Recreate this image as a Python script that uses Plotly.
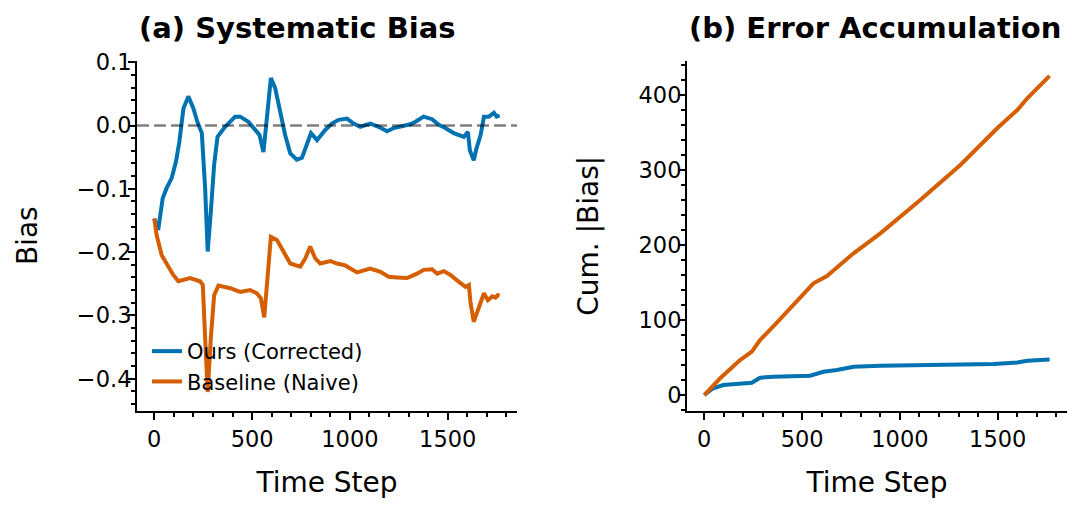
import plotly.graph_objects as go

# ---------------- data ----------------
t_ours = [0, 20, 43, 63, 89, 111, 128, 149, 174, 200, 220, 243, 260, 273, 289, 306, 323, 362, 413, 439,
          481, 516, 538, 558, 575, 596, 618, 644, 669, 695, 729, 755, 777, 801, 832, 874, 908, 942, 985, 1019,
          1053, 1104, 1147, 1190, 1224, 1275, 1309, 1335, 1377, 1420, 1454, 1488, 1531, 1582, 1603, 1613, 1633,
          1647, 1668, 1685, 1710, 1736, 1750, 1765]
bias_ours = [-0.147, -0.165, -0.115, -0.099, -0.083, -0.057, -0.026, 0.027, 0.046, 0.027,
             0.006, -0.012, -0.099, -0.199, -0.136, -0.062, -0.018, -0.002, 0.014, 0.014,
             0.006, -0.007, -0.015, -0.042, 0.006, 0.075, 0.059, 0.022, -0.015, -0.044,
             -0.054, -0.051, -0.031, -0.012, -0.023, -0.007, 0.003, 0.009, 0.011, 0.003,
             -0.002, 0.003, -0.002, -0.009, -0.004, 0.000, 0.002, 0.006, 0.014, 0.010,
             0.001, -0.004, -0.012, -0.018, -0.010, -0.039, -0.055, -0.036, -0.015, 0.014,
             0.014, 0.020, 0.014, 0.016]

t_base = [0, 12, 38, 63, 97, 123, 183, 234, 248, 260, 273, 289, 306, 328, 388, 439, 490, 524, 545, 562,
          579, 596, 627, 661, 695, 746, 772, 797, 823, 848, 900, 934, 976, 1036, 1104, 1156, 1198, 1241, 1292,
          1343, 1377, 1420, 1446, 1480, 1514, 1557, 1591, 1608, 1617, 1633, 1651, 1668, 1685, 1705, 1728,
          1744, 1756, 1765]
bias_base = [-0.147, -0.173, -0.205, -0.218, -0.236, -0.246, -0.241, -0.246, -0.252, -0.336,
             -0.421, -0.336, -0.268, -0.253, -0.257, -0.263, -0.260, -0.265, -0.273, -0.303,
             -0.231, -0.176, -0.181, -0.199, -0.218, -0.223, -0.210, -0.191, -0.210, -0.218,
             -0.214, -0.218, -0.221, -0.232, -0.226, -0.231, -0.239, -0.240, -0.241, -0.234,
             -0.228, -0.227, -0.234, -0.230, -0.236, -0.247, -0.255, -0.252, -0.281, -0.310,
             -0.294, -0.278, -0.265, -0.276, -0.270, -0.272, -0.268, -0.269]

t_cum_ours = [0, 46, 97, 183, 243, 285, 353, 541, 609, 678, 763, 900, 1139, 1480, 1600, 1651, 1765]
cum_ours = [0, 9, 13.3, 15.6, 16.4, 23, 24.4, 25.8, 31, 33.3, 37.8, 39, 40, 41.3, 43.5, 45.8, 47.5]

t_cum_base = [0, 80, 183, 243, 285, 371, 558, 627, 763, 900, 1104, 1309, 1497, 1600, 1651, 1765]
cum_base = [0, 22, 46.7, 57.8, 73.3, 96.5, 148.9, 158.7, 188.9, 215.6, 260, 306.7, 355.6, 380, 395.6, 425.5]

x_ticks = [0, 500, 1000, 1500]
names = ["Ours (Corrected)", "Baseline (Naive)"]
titles = ["(a) Systematic Bias", "(b) Error Accumulation"]

# ---------------- styling ----------------
BLUE = "#0072B2"
ORANGE = "#D55E00"
FONT = "DejaVu Sans"
SCREEN_W, SCREEN_H = 1081, 511
OFF = 8  # default page body margin
W, H = SCREEN_W - OFF, SCREEN_H - OFF
LW = 4

def px_x(p):
    return (p - OFF) / W

def px_y(p):
    return (SCREEN_H - p) / H

fig = go.Figure()

fig.add_trace(go.Scatter(x=t_ours, y=bias_ours, mode="lines", name=names[0],
                         line=dict(color=BLUE, width=LW), xaxis="x", yaxis="y"))
fig.add_trace(go.Scatter(x=t_base, y=bias_base, mode="lines", name=names[1],
                         line=dict(color=ORANGE, width=LW), xaxis="x", yaxis="y"))
fig.add_trace(go.Scatter(x=t_cum_ours, y=cum_ours, mode="lines", name=names[0], showlegend=False,
                         line=dict(color=BLUE, width=LW), xaxis="x2", yaxis="y2"))
fig.add_trace(go.Scatter(x=t_cum_base, y=cum_base, mode="lines", name=names[1], showlegend=False,
                         line=dict(color=ORANGE, width=LW), xaxis="x2", yaxis="y2"))

tickfont = dict(family=FONT, size=22.5, color="black")
titlefont = dict(family=FONT, size=28, color="black")

common = dict(showline=True, linecolor="black", linewidth=2, mirror=False,
              showgrid=False, zeroline=False, ticks="outside", ticklen=7, tickwidth=2,
              tickcolor="black", tickfont=tickfont, automargin=False)

dom_y = [px_y(411), px_y(60.5)]

fig.update_layout(
    width=W, height=H,
    margin=dict(l=0, r=0, t=0, b=0),
    paper_bgcolor="white", plot_bgcolor="white",
    font=dict(family=FONT, color="black"),
    xaxis=dict(domain=[px_x(137), px_x(517)], range=[-88.3, 1854], anchor="y",
               tickvals=x_ticks,
               minor=dict(dtick=100, ticks="outside", ticklen=4, tickwidth=1.5, tickcolor="black"),
               title=dict(text="Time Step", font=titlefont, standoff=21), **common),
    yaxis=dict(domain=dom_y, range=[-0.451, 0.1027], anchor="x",
               dtick=0.1, tick0=0, tickformat=".1f",
               minor=dict(dtick=0.02, ticks="outside", ticklen=4, tickwidth=1.5, tickcolor="black"),
               title=dict(text="Bias", font=titlefont, standoff=31), **common),
    xaxis2=dict(domain=[px_x(687), px_x(1067)], range=[-88.3, 1854], anchor="y2",
                tickvals=x_ticks,
                minor=dict(dtick=100, ticks="outside", ticklen=4, tickwidth=1.5, tickcolor="black"),
                title=dict(text="Time Step", font=titlefont, standoff=21), **common),
    yaxis2=dict(domain=dom_y, range=[-21.3, 446], anchor="x2",
                dtick=100, tick0=0,
                minor=dict(dtick=20, ticks="outside", ticklen=4, tickwidth=1.5, tickcolor="black"),
                title=dict(text="Cum. |Bias|", font=titlefont, standoff=32), **common),
    legend=dict(x=px_x(147), y=px_y(331), xanchor="left", yanchor="top",
                bgcolor="rgba(0,0,0,0)", borderwidth=0,
                font=dict(family=FONT, size=21, color="black")),
    showlegend=True,
)

# pull y tick labels a little closer to the ticks, if supported
try:
    fig.update_yaxes(ticklabelstandoff=-8)
except Exception:
    pass

# zero reference line
fig.add_shape(type="line", xref="x domain", yref="y", x0=0, x1=1, y0=0, y1=0,
              line=dict(color="rgba(0,0,0,0.5)", width=2.5, dash="12px,5px"), layer="above")

# panel titles (left-aligned with each axes)
for xpos, txt in zip([px_x(137), px_x(687)], titles):
    fig.add_annotation(text="<b>" + txt + "</b>", x=xpos, y=px_y(28), xref="paper", yref="paper",
                       xanchor="left", yanchor="middle", showarrow=False,
                       font=dict(family=FONT, size=29, color="black"))

fig.write_html("out.html")
